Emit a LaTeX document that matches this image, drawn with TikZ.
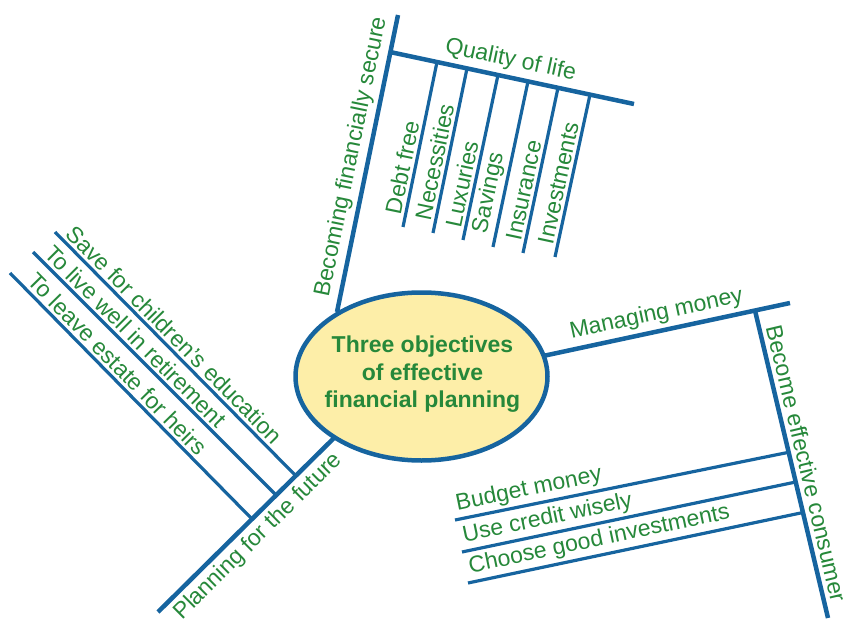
\documentclass[tikz,border=0pt]{standalone}
\usepackage{fontspec}
\setmainfont{Liberation Sans}
\usetikzlibrary{shapes.geometric}
\definecolor{lblue}{HTML}{16649F}
\definecolor{lgreen}{HTML}{26883A}
\definecolor{lyellow}{HTML}{FDEEA8}
\begin{document}
\begin{tikzpicture}[x=1pt,y=-1pt,
  mainline/.style={draw=lblue, line width=4.5pt},
  subline/.style={draw=lblue, line width=3.2pt},
  lbl/.style={text=lgreen, font=\fontsize{23}{27}\selectfont, inner sep=4pt, sloped},
  slbl/.style={lbl, inner sep=2.8pt}]
\useasboundingbox (0,0) rectangle (854,623);

% coordinates
\coordinate (b1s) at (337,312);
\coordinate (b1e) at (398,15);
\coordinate (q1) at (390,52);
\coordinate (q2) at (634,104);
\coordinate (d1t) at (437,62);   \coordinate (d1b) at (403,227);
\coordinate (d2t) at (467,68.4); \coordinate (d2b) at (433,233);
\coordinate (d3t) at (498,75);   \coordinate (d3b) at (463,240);
\coordinate (d4t) at (528,81.4); \coordinate (d4b) at (493,247);
\coordinate (d5t) at (558,87.8); \coordinate (d5b) at (523,253);
\coordinate (d6t) at (590,94.6); \coordinate (d6b) at (555,257);

\coordinate (m1) at (543,356);
\coordinate (m2) at (790,303);
\coordinate (c1) at (755,310.5);
\coordinate (c2) at (828,618);
\coordinate (u1l) at (455,520); \coordinate (u1r) at (788.6,452.3);
\coordinate (u2l) at (462,552); \coordinate (u2r) at (795.7,482);
\coordinate (u3l) at (468,583); \coordinate (u3r) at (803,512.5);

\coordinate (p1) at (335,437);
\coordinate (p2) at (158,612);
\coordinate (s1u) at (55,232); \coordinate (s1l) at (296,476);
\coordinate (s2u) at (33,252); \coordinate (s2l) at (276,495);
\coordinate (s3u) at (10,273); \coordinate (s3l) at (252,519);

% branch: becoming financially secure
\draw[mainline] (b1s) -- node[lbl, pos=0.02, anchor=south west] {Becoming financially secure} (b1e);
\draw[mainline] (q1) -- node[lbl, pos=0.48, anchor=south] {Quality of life} (q2);
\draw[subline] (d1b) -- node[slbl, pos=0.04, anchor=south west] {Debt free} (d1t);
\draw[subline] (d2b) -- node[slbl, pos=0.04, anchor=south west] {Necessities} (d2t);
\draw[subline] (d3b) -- node[slbl, pos=0.04, anchor=south west] {Luxuries} (d3t);
\draw[subline] (d4b) -- node[slbl, pos=0.04, anchor=south west] {Savings} (d4t);
\draw[subline] (d5b) -- node[slbl, pos=0.04, anchor=south west] {Insurance} (d5t);
\draw[subline] (d6b) -- node[slbl, pos=0.04, anchor=south west] {Investments} (d6t);

% branch: managing money
\draw[mainline] (m1) -- node[lbl, pos=0.1, anchor=south west] {Managing money} (m2);
\draw[mainline] (c1) -- node[lbl, pos=0.04, anchor=south west] {Become effective consumer} (c2);
\draw[subline] (u1l) -- node[slbl, pos=0.0, anchor=south west] {Budget money} (u1r);
\draw[subline] (u2l) -- node[slbl, pos=0.0, anchor=south west] {Use credit wisely} (u2r);
\draw[subline] (u3l) -- node[slbl, pos=0.0, anchor=south west] {Choose good investments} (u3r);

% branch: planning for the future
\draw[mainline] (p2) -- node[lbl, pos=0.02, anchor=north west] {Planning for the future} (p1);
\draw[subline] (s1u) -- node[slbl, pos=0.015, anchor=south west] {Save for children’s education} (s1l);
\draw[subline] (s2u) -- node[slbl, pos=0.015, anchor=south west] {To live well in retirement} (s2l);
\draw[subline] (s3u) -- node[slbl, pos=0.04, anchor=south west] {To leave estate for heirs} (s3l);

% center
\node[draw=lblue, fill=lyellow, line width=4.5pt, ellipse, minimum width=252pt,
      minimum height=168pt, inner sep=0pt] (center) at (421.5,376.5) {};
\node[inner sep=0pt, align=center, text=lgreen,
      font=\bfseries\fontsize{23}{27.5}\selectfont] (ctext) at (422.5,374.5)
      {Three objectives\\of effective\\financial planning};
\end{tikzpicture}
\end{document}
